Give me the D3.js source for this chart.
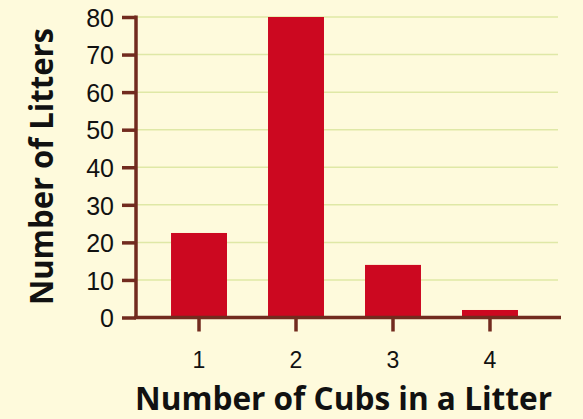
<!DOCTYPE html>
<html><head><meta charset="utf-8">
<script src="https://cdn.jsdelivr.net/npm/d3@7"></script>
<style>html,body{margin:0;padding:0;background:#fefadc;}svg{display:block;}</style>
</head><body>
<svg id="c" width="583" height="419"></svg>
<script>
const categories = ["1", "2", "3", "4"];
const values = [22.5, 80, 14, 2];
const yTicks = [0, 10, 20, 30, 40, 50, 60, 70, 80];
const xTitle = "Number of Cubs in a Litter";
const yTitle = "Number of Litters";

const svg = d3.select("#c");
const W = 583, H = 419;
svg.append("rect").attr("width", W).attr("height", H).attr("fill", "#fefadc");

const axisColor = "#722b1f";
const tickFont = "'Liberation Sans', Arial, sans-serif";
const x = d3.scaleBand().domain(categories).range([130, 559]).paddingInner(0.423).paddingOuter(0.423);
const y = d3.scaleLinear().domain([0, 80]).range([317.5, 17]);

// gridlines
svg.append("g").selectAll("line").data(yTicks.filter(d => d > 0)).join("line")
  .attr("x1", 136).attr("x2", 558)
  .attr("y1", d => y(d)).attr("y2", d => y(d))
  .attr("stroke", "#dfe8a6").attr("stroke-width", 1.5);

// bars
svg.append("g").selectAll("rect").data(values).join("rect")
  .attr("x", (d, i) => x(categories[i]))
  .attr("width", x.bandwidth())
  .attr("y", d => y(d))
  .attr("height", d => y(0) - y(d))
  .attr("fill", "#cc0820");

// y axis
const yAxis = d3.axisLeft(y).tickValues(yTicks).tickSize(14).tickPadding(8).tickFormat(d3.format("d"));
const gy = svg.append("g").attr("transform", "translate(136,0)").call(yAxis);
gy.attr("font-size", null).attr("font-family", null);
gy.select(".domain").attr("stroke", axisColor).attr("stroke-width", 3.5).attr("d", `M0,${y(80)-1.5}V${y(0)+1.5}`);
gy.selectAll(".tick line").attr("stroke", axisColor).attr("stroke-width", 3.5);
gy.selectAll(".tick text").attr("fill", "#111").attr("font-family", tickFont).attr("font-size", 25).attr("dy", "0.37em");

// x axis
const xAxis = d3.axisBottom(x).tickSize(14).tickPadding(20);
const gx = svg.append("g").attr("transform", `translate(0,${y(0)})`).call(xAxis);
gx.attr("font-size", null).attr("font-family", null);
gx.select(".domain").attr("stroke", axisColor).attr("stroke-width", 3.5).attr("d", "M134,0H561");
gx.selectAll(".tick line").attr("stroke", axisColor).attr("stroke-width", 3.5);
gx.selectAll(".tick text").attr("fill", "#111").attr("font-family", tickFont).attr("font-size", 23);

// titles
svg.append("text").attr("x", 343.5).attr("y", 410).attr("text-anchor", "middle")
  .attr("textLength", 417).attr("lengthAdjust", "spacingAndGlyphs")
  .style("font-family", "'Open Sans', sans-serif").style("font-weight", "bold").style("font-size", "33px")
  .attr("fill", "#111").text(xTitle);
svg.append("text").attr("transform", "translate(53,166.5) rotate(-90)").attr("text-anchor", "middle")
  .attr("textLength", 277).attr("lengthAdjust", "spacingAndGlyphs")
  .style("font-family", "'Open Sans', sans-serif").style("font-weight", "bold").style("font-size", "33px")
  .attr("fill", "#111").text(yTitle);
</script>
</body></html>
